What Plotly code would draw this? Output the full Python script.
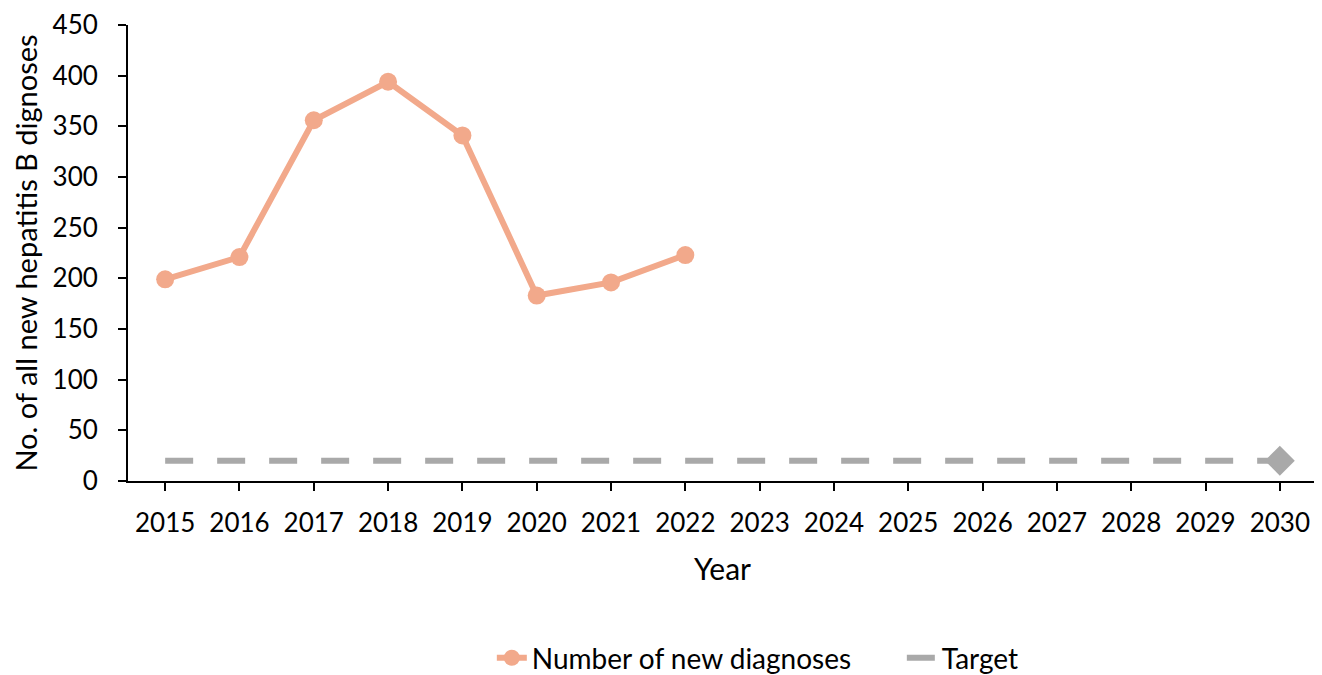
import plotly.graph_objects as go

years = [str(y) for y in range(2015, 2031)]
diag_years = years[:8]
diagnoses = [199, 221, 356, 394, 341, 183, 196, 223]
target_years = years
target_values = [20] * 16
target_end_year = ["2030"]
target_end_value = [20]

orange = "#F2A98B"
gray = "#A9A9A9"
font_family = "Lato, 'Open Sans', sans-serif"

fig = go.Figure()
fig.add_trace(go.Scatter(
    x=diag_years, y=diagnoses, mode="lines+markers", name="Number of new diagnoses",
    line=dict(color=orange, width=6), marker=dict(color=orange, size=18),
))
fig.add_trace(go.Scatter(
    x=target_years, y=target_values, mode="lines", name="Target",
    line=dict(color=gray, width=6, dash="28px,24px"),
))
fig.add_trace(go.Scatter(
    x=target_end_year, y=target_end_value, mode="markers", showlegend=False,
    marker=dict(color=gray, size=23, symbol="diamond"),
))

fig.update_layout(
    width=1322, height=675,
    margin=dict(l=120, r=13, t=17, b=202),
    paper_bgcolor="white", plot_bgcolor="white",
    font=dict(family=font_family, size=26, color="black"),
    showlegend=True,
    legend=dict(orientation="h", xref="paper", yref="container",
                x=0.306, xanchor="left", y=0.037, yanchor="middle",
                entrywidth=365, font=dict(size=28)),
    xaxis=dict(
        type="category", categoryorder="array", categoryarray=years,
        showline=True, linecolor="black", linewidth=2, ticks="outside", ticklen=8,
        tickwidth=2, tickcolor="black", ticklabelstandoff=10, showgrid=False,
        title=dict(text="Year", font=dict(size=30), standoff=22),
        range=[-0.5, 15.5], automargin=False, ticklabeloverflow="allow",
    ),
    yaxis=dict(
        range=[0, 450], tickvals=list(range(0, 451, 50)),
        showline=True, linecolor="black", linewidth=2, ticks="outside", ticklen=8,
        tickwidth=2, tickcolor="black", ticklabelstandoff=15, showgrid=False, zeroline=False,
        title=dict(text="No. of all new hepatitis B dignoses", font=dict(size=29), standoff=6),
        automargin=False, ticklabeloverflow="allow",
    ),
)

fig.write_html("out.html")
